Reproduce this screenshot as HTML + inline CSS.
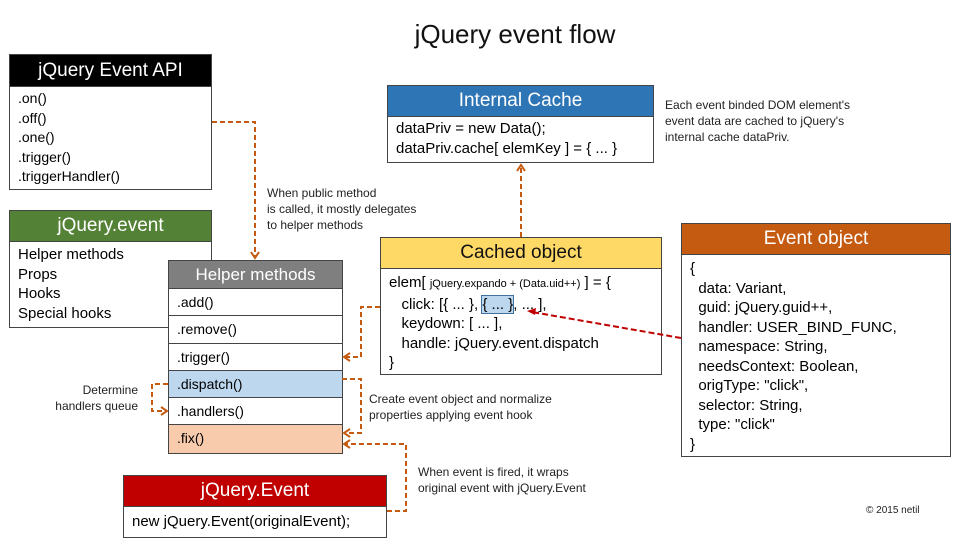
<!DOCTYPE html>
<html><head><meta charset="utf-8"><style>
body{margin:0;width:960px;height:548px;background:#fff;position:relative;font-family:"Liberation Sans","DejaVu Sans",sans-serif;overflow:hidden}
.b{position:absolute;border:1.5px solid #444;background:#fff;box-sizing:border-box}
.h{color:#fff;text-align:center;font-size:19px;border-bottom:1.5px solid #444;box-sizing:border-box}
.t{position:absolute;font-size:12px;color:#222;line-height:16px}
.row{border-bottom:1.5px solid #444;box-sizing:border-box;font-size:14px;padding-left:8px;height:27.3px;line-height:27px}
.l{font-size:15px;line-height:19.5px;padding:4px 8px}
</style></head><body>
<div class="t" style="left:0;width:1030px;text-align:center;top:18px;font-size:26px;line-height:32px;color:#111">jQuery event flow</div>

<div class="b" style="left:9px;top:54px;width:203px;height:136px">
<div class="h" style="background:#000;height:32px;line-height:31px">jQuery Event API</div>
<div class="l" style="font-size:14px;padding-top:2px">.on()<br>.off()<br>.one()<br>.trigger()<br>.triggerHandler()</div></div>

<div class="b" style="left:9px;top:210px;width:203px;height:118px">
<div class="h" style="background:#538135;height:31px;line-height:30px">jQuery.event</div>
<div class="l" style="padding-top:3px">Helper methods<br>Props<br>Hooks<br>Special hooks</div></div>

<div class="b" style="left:168px;top:260px;width:175px;height:194px">
<div class="h" style="background:#7f7f7f;height:28px;line-height:27px;font-size:17px">Helper methods</div>
<div class="row">.add()</div><div class="row">.remove()</div><div class="row">.trigger()</div>
<div class="row" style="background:#bdd7ee">.dispatch()</div><div class="row">.handlers()</div>
<div class="row" style="background:#f8cbad;border:0">.fix()</div></div>

<div class="b" style="left:387px;top:85px;width:267px;height:78px">
<div class="h" style="background:#2e75b6;height:31px;line-height:30px">Internal Cache</div>
<div class="l" style="padding-top:2px">dataPriv = new Data();<br>dataPriv.cache[ elemKey ] = { ... }</div></div>

<div class="t" style="left:665px;top:97px">Each event binded DOM element's<br>event data are cached to jQuery's<br>internal cache dataPriv.</div>

<div class="b" style="left:380px;top:237px;width:282px;height:138px">
<div class="h" style="background:#ffd966;color:#111;height:31px;line-height:30px">Cached object</div>
<div class="l" style="padding-top:4px">elem[ <span style="font-size:11px">jQuery.expando + (Data.uid++)</span> ] = {<br>&nbsp;&nbsp;&nbsp;click: [{ ... }, <span style="background:#bdd7ee;outline:1px solid #41719c">{ ... }</span>, ... ],<br>&nbsp;&nbsp;&nbsp;keydown: [ ... ],<br>&nbsp;&nbsp;&nbsp;handle: jQuery.event.dispatch<br>}</div></div>

<div class="b" style="left:681px;top:223px;width:270px;height:234px">
<div class="h" style="background:#c55a11;height:31px;line-height:30px">Event object</div>
<div class="l" style="padding-top:4px">{<br>&nbsp;&nbsp;data: Variant,<br>&nbsp;&nbsp;guid: jQuery.guid++,<br>&nbsp;&nbsp;handler: USER_BIND_FUNC,<br>&nbsp;&nbsp;namespace: String,<br>&nbsp;&nbsp;needsContext: Boolean,<br>&nbsp;&nbsp;origType: "click",<br>&nbsp;&nbsp;selector: String,<br>&nbsp;&nbsp;type: "click"<br>}</div></div>

<div class="b" style="left:123px;top:475px;width:264px;height:63px">
<div class="h" style="background:#c00000;height:31px;line-height:30px">jQuery.Event</div>
<div class="l" style="padding-top:5px">new jQuery.Event(originalEvent);</div></div>

<div class="t" style="left:267px;top:185px">When public method<br>is called, it mostly delegates<br>to helper methods</div>
<div class="t" style="left:20px;top:382px;width:118px;text-align:right">Determine<br>handlers queue</div>
<div class="t" style="left:369px;top:391px">Create event object and normalize<br>properties applying event hook</div>
<div class="t" style="left:418px;top:464px">When event is fired, it wraps<br>original event with jQuery.Event</div>
<div class="t" style="left:866px;top:503px;font-size:10px">© 2015 netil</div>

<svg width="960" height="548" style="position:absolute;left:0;top:0" fill="none">
<g stroke="#c55a11" stroke-width="2" stroke-dasharray="5,3">
<path d="M212 122H255V256"/><path d="M380 307H361V357H345"/><path d="M342 379H361V433H345"/>
<path d="M168 384H152V411H165"/><path d="M387 511H406V444H345"/><path d="M521 237V167"/>
</g>
<g stroke="#c55a11" stroke-width="2">
<path d="M251 252L255 258L259 252"/><path d="M350 353L344 357L350 361"/><path d="M350 429L344 433L350 437"/>
<path d="M161 407L167 411L161 415"/><path d="M350 440L344 444L350 448"/><path d="M517 171L521 165L525 171"/>
</g>
<path d="M681 338L532 312" stroke="#c00000" stroke-width="2" stroke-dasharray="6,3"/>
<path d="M527 311L536 308L535 315Z" fill="#c00000"/>
</svg>
</body></html>
